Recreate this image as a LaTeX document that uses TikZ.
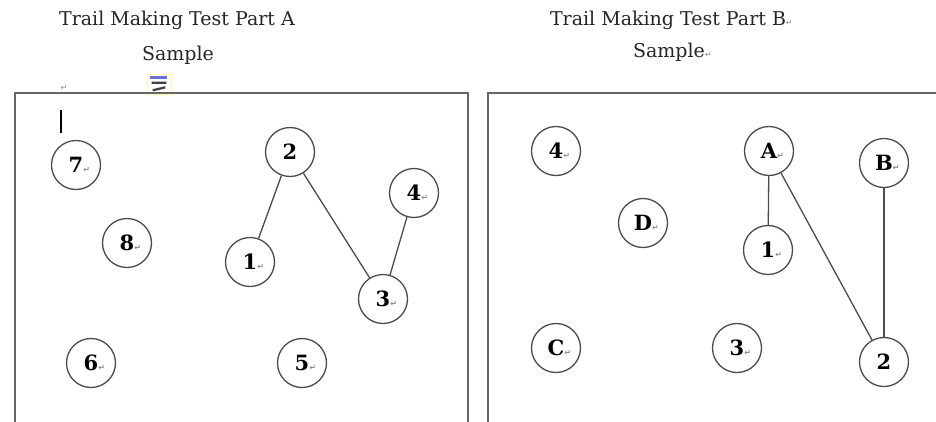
\documentclass[tikz,border=0pt]{standalone}
\usepackage{fontspec}
\setmainfont{DejaVu Serif}
\newfontfamily\marksfont{DejaVu Sans}
\usepackage{xcolor}
\usepackage{tikz}

\definecolor{pmgray}{RGB}{140,140,140}
\definecolor{anchorblue}{RGB}{110,110,220}
\newcommand{\pmark}{\rlap{\marksfont\fontsize{8}{8}\selectfont\color{pmgray}↵}}

\begin{document}
\begin{tikzpicture}[x=1pt, y=-1pt, thick,
    main node/.style={circle, draw=black!70, line width=1.3pt, minimum size=49pt, inner sep=0pt, font=\bfseries\fontsize{21}{21}\selectfont},
    title/.style={font=\fontsize{19}{19}\selectfont, text=black!85},
    frame/.style={draw=black!60, line width=1.6pt}]

    \clip (0,0) rectangle (936,421);
    \fill[white] (0,0) rectangle (936,421);

    % headings
    \node[title] (titleA) at (177,20) {Trail Making Test Part A};
    \node[title] (sampleA) at (178,55) {Sample};
    \node[title] (titleB) at (668,20) {Trail Making Test Part B\pmark};
    \node[title] (sampleB) at (669,52) {Sample\pmark};
    \node[font=\marksfont\fontsize{8}{8}\selectfont, text=pmgray] (markA) at (64,88) {↵};

    % anchor mark
    \node[draw=yellow!35, line width=0.6pt, minimum width=24pt, minimum height=20pt] (anchor) at (159,84) {};
    \draw[anchorblue, line width=3pt] ([xshift=3pt, yshift=-4pt]anchor.north west) -- ([xshift=-4pt, yshift=-4pt]anchor.north east);
    \draw[black!75, line width=2.2pt] ([xshift=5pt, yshift=-9pt]anchor.north west) -- ([xshift=-5pt, yshift=-9pt]anchor.north east)
        ([xshift=6pt, yshift=4pt]anchor.south west) -- ([xshift=-6pt, yshift=7pt]anchor.south east);

    % frames
    \draw[frame] (15,440) -- (15,93) -- (468,93) -- (468,440);
    \draw[frame] (488,440) -- (488,93) -- (950,93);
    \draw[line width=2pt] (61,110) -- (61,133);

    % part A
    \node[main node] (l7) at (76,165) {7\pmark};
    \node[main node] (l8) at (127,243) {8\pmark};
    \node[main node] (l2) at (290,152) {2};
    \node[main node] (l4) at (414,193) {4\pmark};
    \node[main node] (l1) at (250,262) {1\pmark};
    \node[main node] (l3) at (383,299) {3\pmark};
    \node[main node] (l6) at (91,363) {6\pmark};
    \node[main node] (l5) at (302,363) {5\pmark};

    % part B
    \node[main node] (r4) at (556,151) {4\pmark};
    \node[main node] (rA) at (769,151) {A\pmark};
    \node[main node] (rB) at (884,163) {B\pmark};
    \node[main node] (rD) at (643,223) {D\pmark};
    \node[main node] (r1) at (768,250) {1\pmark};
    \node[main node] (rC) at (556,348) {C\pmark};
    \node[main node] (r3) at (737,348) {3\pmark};
    \node[main node] (r2) at (884,362) {2};

    \path[draw=black!70, line width=1.3pt]
        (l2) edge (l1)
        (l2) edge (l3)
        (l4) edge (l3)
        (rA) edge (r1)
        (rA) edge (r2)
        (rB) edge (r2);
\end{tikzpicture}
\end{document}
